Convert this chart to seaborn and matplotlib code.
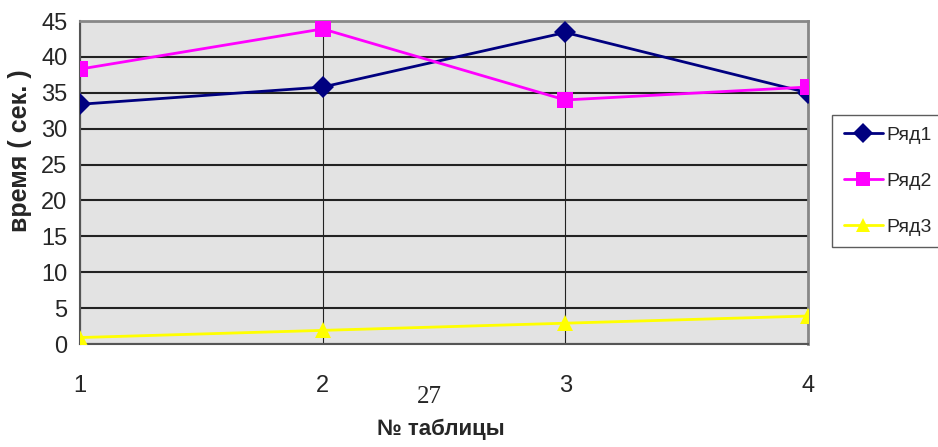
import pandas as pd
import matplotlib.pyplot as plt
import seaborn as sns

# Data
tables = [1, 2, 3, 4]
row1 = [33.4, 35.8, 43.4, 35.0]
row2 = [38.3, 43.9, 34.0, 35.8]
row3 = [0.9, 1.9, 2.9, 3.9]
series_names = ["Ряд1", "Ряд2", "Ряд3"]

df = pd.DataFrame({
    "table": tables * 3,
    "time": row1 + row2 + row3,
    "series": [series_names[0]] * 4 + [series_names[1]] * 4 + [series_names[2]] * 4,
})

sns.set_style("white")
plt.rcParams["font.family"] = ["Liberation Sans Narrow", "Liberation Sans", "DejaVu Sans"]

fig = plt.figure(figsize=(9.38, 4.47), dpi=100)
ax = fig.add_axes([0.0853, 0.2304, 0.7761, 0.7226])
ax.set_facecolor("#e3e3e3")

palette = {"Ряд1": "#000080", "Ряд2": "#ff00ff", "Ряд3": "#ffff00"}
markers = {"Ряд1": "D", "Ряд2": "s", "Ряд3": "^"}
sns.lineplot(data=df, x="table", y="time", hue="series", style="series",
             palette=palette, markers=markers, dashes=False, linewidth=2,
             markersize=11, markeredgewidth=0, ax=ax, zorder=3)

ax.set_xlim(1, 4)
ax.set_ylim(0, 45)
ax.set_xticks(tables)
ax.set_yticks(range(0, 46, 5))
ax.grid(axis="y", color="#222222", linewidth=1.5)
ax.grid(axis="x", color="#222222", linewidth=0.8)
ax.set_axisbelow(True)
for side in ["top", "right"]:
    ax.spines[side].set_color("#888888")
    ax.spines[side].set_linewidth(2)
for side in ["left", "bottom"]:
    ax.spines[side].set_color("#555555")
    ax.spines[side].set_linewidth(1.5)
ax.tick_params(axis="both", direction="out", length=7, width=1.2, color="#444444",
               labelsize=17)
ax.tick_params(axis="x", pad=15)
ax.tick_params(axis="y", pad=2)

ax.set_xlabel("№ таблицы", fontsize=16, fontweight="bold")
ax.xaxis.set_label_coords(0.496, -0.232)
ax.set_ylabel("время ( сек. )", fontsize=18, fontweight="bold",
              family=["Liberation Sans", "DejaVu Sans"])
ax.yaxis.set_label_coords(-0.066, 0.6)

fig.text(0.458, 0.112, "27", fontsize=18, family=["Liberation Serif", "DejaVu Serif"],
         ha="center", va="center")

handles, labels = ax.get_legend_handles_labels()
leg = ax.legend(handles, labels, loc="upper left", bbox_to_anchor=(1.033, 0.71),
                frameon=True, fancybox=False, fontsize=14, handlelength=2.0,
                handletextpad=0.2, labelspacing=1.45, borderpad=0.6,
                borderaxespad=0, markerscale=0.9)
leg.get_frame().set_edgecolor("#333333")
leg.get_frame().set_linewidth(1)

plt.savefig("out.png", dpi=100)
plt.close()
